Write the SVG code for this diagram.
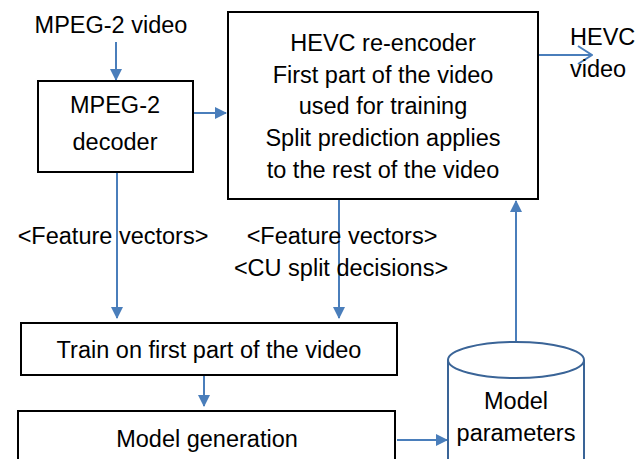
<svg xmlns="http://www.w3.org/2000/svg" width="641" height="459" viewBox="0 0 641 459">
<style>
  .box{fill:#fff;stroke:#000;stroke-width:2}
  .cyl{fill:#fff;stroke:#3A6497;stroke-width:2}
  .t{font-family:"Liberation Sans",Arial,sans-serif;font-size:23.5px;fill:#000;text-anchor:middle}
  .tl{font-family:"Liberation Sans",Arial,sans-serif;font-size:23.5px;fill:#000}
  .c{fill:none;stroke:#4A7EBB;stroke-width:2}
</style>
<defs>
  <marker id="ah" markerWidth="12" markerHeight="12" refX="11" refY="6" orient="auto" markerUnits="userSpaceOnUse">
    <path d="M0,0 L12,6 L0,12 Z" fill="#4A7EBB"/>
  </marker>
  <marker id="oa" markerWidth="16" markerHeight="20" refX="15" refY="10" orient="auto" markerUnits="userSpaceOnUse">
    <path d="M1,1 L15,10 L1,19" fill="none" stroke="#4A7EBB" stroke-width="2"/>
  </marker>
</defs>

<g id="connectors">
  <line class="c" x1="116" y1="42" x2="116" y2="80" marker-end="url(#ah)"/>
  <line class="c" x1="193" y1="113" x2="226" y2="113" marker-end="url(#ah)"/>
  <line class="c" x1="539" y1="55" x2="592" y2="55" marker-end="url(#oa)"/>
  <line class="c" x1="117" y1="172" x2="117" y2="318" marker-end="url(#ah)"/>
  <line class="c" x1="339" y1="200" x2="339" y2="318" marker-end="url(#ah)"/>
  <line class="c" x1="204" y1="375" x2="204" y2="406" marker-end="url(#ah)"/>
  <line class="c" x1="397" y1="440" x2="447" y2="440" marker-end="url(#ah)"/>
  <line class="c" x1="516" y1="342" x2="516" y2="201" marker-end="url(#ah)"/>
</g>

<g id="label-mpeg2-video"><text class="t" x="111" y="33">MPEG-2 video</text></g>

<g id="mpeg2-decoder">
  <rect class="box" x="38" y="81" width="155" height="91"/>
  <text class="t" x="115" y="113">MPEG-2</text>
  <text class="t" x="115" y="150">decoder</text>
</g>

<g id="hevc-reencoder">
  <rect class="box" x="228" y="12" width="310" height="187"/>
  <text class="t" x="383" y="51">HEVC re-encoder</text>
  <text class="t" x="383" y="83">First part of the video</text>
  <text class="t" x="383" y="114">used for training</text>
  <text class="t" x="383" y="146">Split prediction applies</text>
  <text class="t" x="383" y="178">to the rest of the video</text>
</g>

<g id="label-hevc-video">
  <text class="tl" x="570" y="45">HEVC</text>
  <text class="tl" x="570" y="77">video</text>
</g>

<g id="label-feature-left"><text class="t" x="113" y="244">&lt;Feature vectors&gt;</text></g>
<g id="label-feature-right">
  <text class="t" x="342" y="244">&lt;Feature vectors&gt;</text>
  <text class="t" x="341" y="276">&lt;CU split decisions&gt;</text>
</g>

<g id="train">
  <rect class="box" x="21" y="323" width="376" height="52"/>
  <text class="t" x="209" y="358">Train on first part of the video</text>
</g>

<g id="model-generation">
  <rect class="box" x="18" y="411" width="377" height="60"/>
  <text class="t" x="207" y="447">Model generation</text>
</g>

<g id="model-parameters">
  <path class="cyl" d="M448,360 L448,470 L584,470 L584,360"/>
  <ellipse class="cyl" cx="516" cy="360" rx="68" ry="18"/>
  <text class="t" x="516" y="409">Model</text>
  <text class="t" x="516" y="441">parameters</text>
</g>
</svg>
